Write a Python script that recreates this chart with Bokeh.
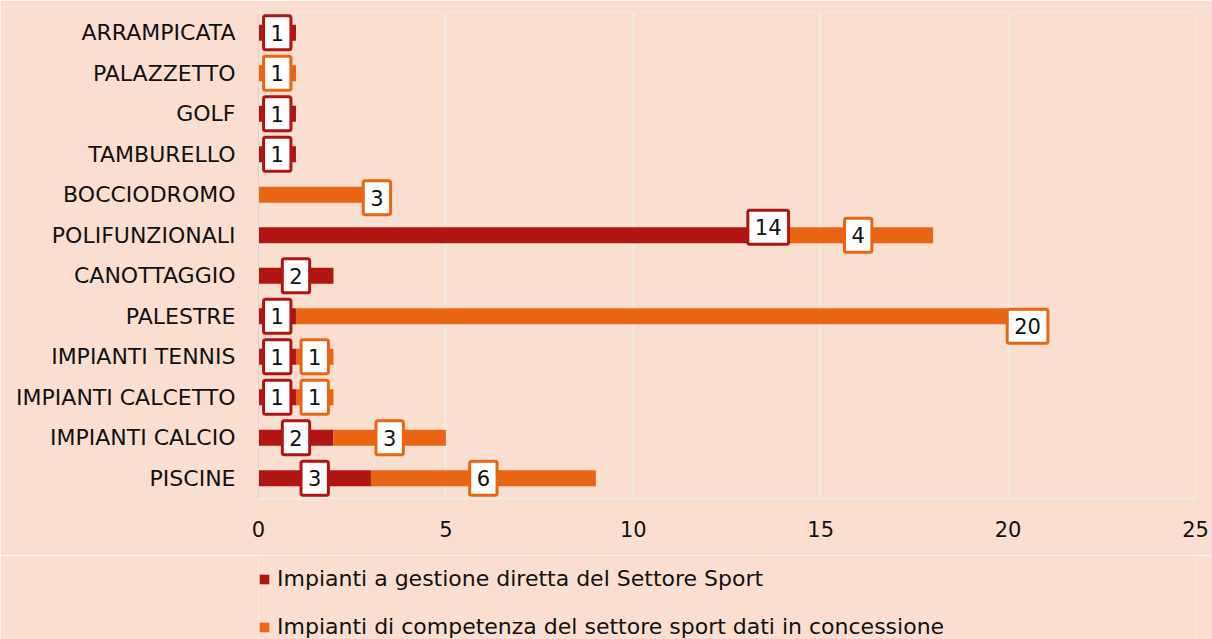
from bokeh.plotting import figure
from bokeh.layouts import column
from bokeh.models import ColumnDataSource, Legend, LegendItem, FactorRange, Range1d, FixedTicker
from bokeh.core.properties import value
from bokeh.embed import file_html
from bokeh.resources import INLINE

categories = ["ARRAMPICATA", "PALAZZETTO", "GOLF", "TAMBURELLO", "BOCCIODROMO", "POLIFUNZIONALI",
              "CANOTTAGGIO", "PALESTRE", "IMPIANTI TENNIS", "IMPIANTI CALCETTO", "IMPIANTI CALCIO", "PISCINE"]
diretta = [1, 0, 1, 1, 0, 14, 2, 1, 1, 1, 2, 3]
concessione = [0, 1, 0, 0, 3, 4, 0, 20, 1, 1, 3, 6]
series_names = ["Impianti a gestione diretta del Settore Sport",
                "Impianti di competenza del settore sport dati in concessione"]
x_ticks = [0, 5, 10, 15, 20, 25]

RED = "#B01513"
ORANGE = "#EA6513"
BG = "#FADFD0"
GRID = "#F1EAE6"
FONT = "DejaVu Sans"

# labels that were dragged to the end of their segment in the original (screen px; +y = down)
moved = {("BOCCIODROMO", 1): (6, 3), ("POLIFUNZIONALI", 0): (-15, -8), ("PALESTRE", 1): (-18, 10)}

p = figure(width=1212, height=555,
           y_range=FactorRange(factors=categories[::-1], range_padding=0),
           x_range=Range1d(0, 25),
           output_backend="svg", toolbar_location=None,
           min_border_left=258, min_border_right=17, min_border_top=12, min_border_bottom=57,
           background_fill_color=BG, border_fill_color=BG, outline_line_color=None)

src = ColumnDataSource(dict(cat=categories, dir=diretta, conc=concessione,
                            start2=diretta, end2=[a + b for a, b in zip(diretta, concessione)]))
p.hbar(y="cat", left=0, right="dir", height=0.4, color=RED, source=src, line_color=None)
p.hbar(y="cat", left="start2", right="end2", height=0.4, color=ORANGE, source=src, line_color=None)

lx, ly, lt, lc, xo, yo = [], [], [], [], [], []
for c, a, b in zip(categories, diretta, concessione):
    for k, (s, v, col) in enumerate([(0, a, RED), (a, b, ORANGE)]):
        if v <= 0:
            continue
        if (c, k) in moved:
            ox, oy = moved[(c, k)]
            x = s + v
        else:
            ox, oy = 0, 0
            x = s + v / 2
        lx.append(x); ly.append(c); lt.append(str(v)); lc.append(col); xo.append(ox); yo.append(oy)
lsrc = ColumnDataSource(dict(x=lx, y=ly, t=lt, c=lc, xo=xo, yo=yo))
p.text(x="x", y="y", text="t", source=lsrc, x_offset="xo", y_offset="yo",
       text_align="center", text_baseline="middle", text_font=value(FONT),
       text_font_size="21px", text_color="#111111",
       background_fill_color="white", border_line_color="c", border_line_width=3,
       padding=(7, 9), border_radius=2)

p.xaxis.ticker = FixedTicker(ticks=x_ticks)
p.xaxis.axis_line_color = GRID
p.xaxis.axis_line_width = 2
p.xaxis.major_tick_line_color = None
p.xaxis.minor_tick_line_color = None
p.xaxis.major_tick_out = 0
p.xaxis.major_label_standoff = 22
p.xaxis.major_label_text_font = FONT
p.xaxis.major_label_text_font_size = "21px"
p.xaxis.major_label_text_color = "#111111"

p.yaxis.axis_line_color = "#D9D3D0"
p.yaxis.major_tick_line_color = None
p.yaxis.minor_tick_line_color = None
p.yaxis.major_tick_out = 0
p.yaxis.major_label_standoff = 23
p.yaxis.major_label_text_font = FONT
p.yaxis.major_label_text_font_size = "22px"
p.yaxis.major_label_text_color = "#111111"

p.xgrid.grid_line_color = GRID
p.xgrid.grid_line_width = 2
p.ygrid.grid_line_color = None

# legend strip below the chart (its frame is aligned with the chart's frame by the column layout)
p2 = figure(width=1212, height=84, x_range=Range1d(0, 1), y_range=Range1d(0, 1),
            x_axis_type=None, y_axis_type=None, output_backend="svg", toolbar_location=None,
            min_border=0, background_fill_color=BG, border_fill_color=BG, outline_line_color=None)
p2.xgrid.grid_line_color = None
p2.ygrid.grid_line_color = None
# zero-size proxy glyphs so the legend can show the series swatches
proxy = ColumnDataSource(dict(y=[0], l=[0], r=[0]))
g1 = p2.hbar(y="y", left="l", right="r", height=0, color=RED, line_color=None, source=proxy)
g2 = p2.hbar(y="y", left="l", right="r", height=0, color=ORANGE, line_color=None, source=proxy)
legend = Legend(items=[LegendItem(label=series_names[0], renderers=[g1]),
                       LegendItem(label=series_names[1], renderers=[g2])],
                location=(0, 0), orientation="vertical",
                glyph_width=12, glyph_height=12, label_standoff=7,
                label_height=24, spacing=23, padding=0, margin=0,
                label_text_font=FONT, label_text_font_size="22px", label_text_color="#111111",
                background_fill_alpha=0, border_line_color=None)
p2.add_layout(legend)

layout = column(p, p2, spacing=0)
open("out.html", "w").write(file_html(layout, INLINE))
